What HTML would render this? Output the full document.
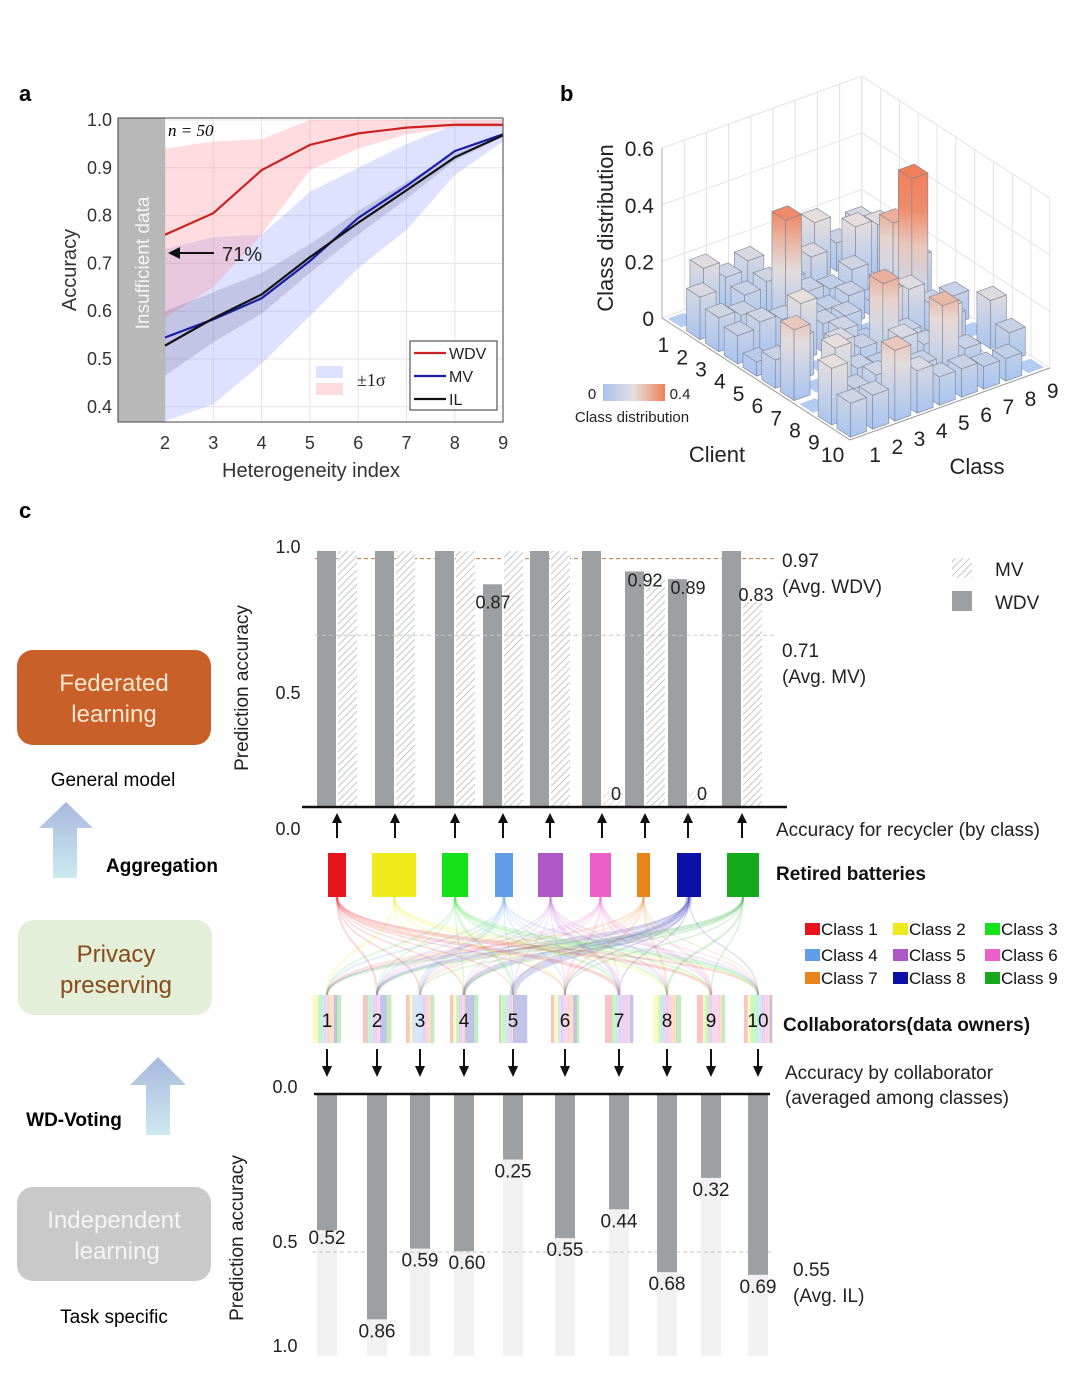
<!DOCTYPE html>
<html><head><meta charset="utf-8">
<style>
html,body{margin:0;padding:0;background:#fff;}
svg{display:block;font-family:"Liberation Sans",sans-serif;}
</style></head>
<body>
<svg id="fig" width="1080" height="1374" viewBox="0 0 1080 1374" xmlns="http://www.w3.org/2000/svg">
<defs>
  <pattern id="hatch" width="5" height="5" patternUnits="userSpaceOnUse" patternTransform="rotate(45)">
    <rect width="5" height="5" fill="#fff"/>
    <line x1="0" y1="0" x2="0" y2="5" stroke="#b5b9bd" stroke-width="1.6"/>
  </pattern>
  <linearGradient id="cbar" x1="0" y1="0" x2="1" y2="0">
    <stop offset="0" stop-color="#a9c4f0"/><stop offset="0.5" stop-color="#e6dedc"/><stop offset="1" stop-color="#f0805a"/>
  </linearGradient>
  <linearGradient id="upArrow" x1="0" y1="0" x2="0" y2="1">
    <stop offset="0" stop-color="#a8b8dc"/><stop offset="1" stop-color="#cdeaf0"/>
  </linearGradient>
</defs>

<text x="19" y="101" font-size="22" font-weight="bold">a</text>
<text x="560" y="101" font-size="22" font-weight="bold">b</text>
<text x="19" y="518" font-size="22" font-weight="bold">c</text>

<g id="panelA"></g>
<g id="panelB"></g>
<g id="panelC"></g>

<g>
  <rect x="17" y="650" width="194" height="95" rx="16" fill="#c9602a"/>
  <text x="114" y="691" font-size="24" fill="#fbe6cf" text-anchor="middle">Federated</text>
  <text x="114" y="722" font-size="24" fill="#fbe6cf" text-anchor="middle">learning</text>
  <text x="113" y="786" font-size="19" text-anchor="middle">General model</text>
  <polygon points="66,802 93,828 77,828 77,878 53,878 53,828 39,828" fill="url(#upArrow)"/>
  <text x="162" y="872" font-size="19" font-weight="bold" text-anchor="middle">Aggregation</text>
  <rect x="18" y="920" width="194" height="95" rx="16" fill="#e3efd9"/>
  <text x="116" y="962" font-size="24" fill="#8a4a1a" text-anchor="middle">Privacy</text>
  <text x="116" y="993" font-size="24" fill="#8a4a1a" text-anchor="middle">preserving</text>
  <polygon points="158,1057 186,1085 170,1085 170,1135 146,1135 146,1085 130,1085" fill="url(#upArrow)"/>
  <text x="74" y="1126" font-size="19" font-weight="bold" text-anchor="middle">WD-Voting</text>
  <rect x="17" y="1187" width="194" height="94" rx="16" fill="#c9c9c9"/>
  <text x="114" y="1228" font-size="24" fill="#f4f4f4" text-anchor="middle">Independent</text>
  <text x="117" y="1259" font-size="24" fill="#f4f4f4" text-anchor="middle">learning</text>
  <text x="114" y="1323" font-size="19" text-anchor="middle">Task specific</text>
</g>
</svg>

<script>
// ===================== DATA =====================
const hetIndex = [2,3,4,5,6,7,8,9];
const wdvMean = [0.76,0.805,0.895,0.948,0.972,0.984,0.99,0.99];
const wdvUpper = [0.94,0.955,0.96,1.0,1.0,1.0,1.0,1.0];
const wdvLower = [0.585,0.65,0.76,0.895,0.94,0.97,0.985,0.985];
const mvMean = [0.545,0.583,0.627,0.705,0.795,0.862,0.935,0.97];
const mvUpper = [0.73,0.755,0.76,0.85,0.9,0.95,0.99,0.99];
const mvLower = [0.37,0.405,0.49,0.59,0.69,0.77,0.885,0.955];
const ilMean = [0.528,0.585,0.635,0.713,0.785,0.853,0.922,0.968];
const ilUpper = [0.6,0.64,0.68,0.74,0.81,0.87,0.93,0.97];
const ilLower = [0.465,0.535,0.595,0.68,0.76,0.835,0.915,0.965];
const aYTicks = [0.4,0.5,0.6,0.7,0.8,0.9,1.0];
const aXTicks = [2,3,4,5,6,7,8,9];
const classDist = [
 [0,0.18,0.12,0.15,0,0.1,0.2,0.1,0.15],
 [0.15,0,0.1,0.12,0.1,0.15,0,0.2,0.18],
 [0.12,0.1,0,0.38,0.1,0.08,0.12,0,0.1],
 [0.1,0.12,0.1,0,0.08,0.1,0.05,0.3,0.15],
 [0.05,0,0.2,0.1,0.1,0,0.05,0.5,0],
 [0.1,0.15,0,0.12,0.05,0.2,0.18,0.1,0.1],
 [0.25,0,0.15,0.1,0.3,0.1,0,0.1,0],
 [0,0.2,0.1,0.08,0.15,0.1,0.2,0,0.17],
 [0.2,0.1,0.12,0,0.1,0.28,0.1,0,0.1],
 [0.12,0.12,0.25,0.15,0.1,0.1,0.08,0.08,0]
];
const bZTicks = [0,0.2,0.4,0.6];
const classNames = ["Class 1","Class 2","Class 3","Class 4","Class 5","Class 6","Class 7","Class 8","Class 9"];
const classColors = ["#e8141c","#eeea1c","#16e21c","#5f9ee6","#ad58c6","#ec5ec8","#e8841c","#0a10a8","#14aa1c"];
const wdvAcc = [1,1,1,0.87,1,1,0.92,0.89,1];
const mvAcc = [1,1,1,1,1,0,0.9,0,0.8];
const wdvLabels = ["","","","0.87","","","0.92","0.89",""];
const mvLabels = ["","","","","","0","","0","0.83"];
const avgWDV = 0.97;
const avgMV = 0.71;
const collabNames = ["1","2","3","4","5","6","7","8","9","10"];
const ilAcc = [0.52,0.86,0.59,0.60,0.25,0.55,0.44,0.68,0.32,0.69];
const avgIL = 0.55;

const NS="http://www.w3.org/2000/svg";
function mk(parent, tag, attrs, text){
  const e=document.createElementNS(NS,tag);
  for(const k in attrs) e.setAttribute(k,attrs[k]);
  if(text!==undefined) e.textContent=text;
  parent.appendChild(e); return e;
}

// ===================== PANEL A =====================
(function(){
  const g=document.getElementById('panelA');
  const X0=118, X1=503, Y0=118, Y1=422;
  const xs=v=>165+(v-2)*48.3;
  const ys=v=>120+(1.0-v)*478;
  aXTicks.forEach(t=>{const l=mk(g,'line',{x1:xs(t),x2:xs(t),y1:Y0,y2:Y1,stroke:'#e4e4e4','stroke-width':1});
     });
  aYTicks.forEach(t=>{const l=mk(g,'line',{x1:X0,x2:X1,y1:ys(t),y2:ys(t),stroke:'#e4e4e4','stroke-width':1});
     });
  function band(up,lo,fill,name){
    let d='M'+hetIndex.map((x,i)=>xs(x)+','+ys(up[i])).join('L');
    d+='L'+hetIndex.slice().reverse().map((x,j)=>{const i=hetIndex.length-1-j;return xs(x)+','+ys(lo[i]);}).join('L')+'Z';
    const p=mk(g,'path',{d:d,fill:fill});
     
  }
  band(mvUpper,mvLower,'rgba(140,150,250,0.28)','mv-sigma-band');
  band(wdvUpper,wdvLower,'rgba(255,140,150,0.3)','wdv-sigma-band');
  band(ilUpper,ilLower,'rgba(90,95,140,0.22)','il-sigma-band');
  const gray=mk(g,'rect',{x:X0,y:Y0,width:165-X0,height:Y1-Y0,fill:'#b8b8b8'});
   
  const it=mk(g,'text',{x:0,y:0,'font-size':19,fill:'#f4f4f4','text-anchor':'middle',transform:'translate(149,263) rotate(-90)'},'Insufficient data');
   
  function line(arr,color,name){
    const p=mk(g,'polyline',{points:hetIndex.map((x,i)=>xs(x)+','+ys(arr[i])).join(' '),fill:'none',stroke:color,'stroke-width':2.2});
     
  }
  line(mvMean,'#1c1ca8','mv-line');
  line(ilMean,'#111','il-line');
  line(wdvMean,'#cc2222','wdv-line');
  const fr=mk(g,'rect',{x:X0,y:Y0,width:X1-X0,height:Y1-Y0,fill:'none',stroke:'#444','stroke-width':1});
   
  aYTicks.forEach(t=>{const tx=mk(g,'text',{x:112,y:ys(t)+6,'font-size':18,fill:'#333','text-anchor':'end'},t.toFixed(1));
     });
  aXTicks.forEach(t=>{const tx=mk(g,'text',{x:xs(t),y:449,'font-size':18,fill:'#333','text-anchor':'middle'},String(t));
     });
  const xt=mk(g,'text',{x:311,y:477,'font-size':20,fill:'#333','text-anchor':'middle'},'Heterogeneity index');
   
  const yt=mk(g,'text',{x:0,y:0,'font-size':20,fill:'#333','text-anchor':'middle',transform:'translate(76,270) rotate(-90)'},'Accuracy');
   
  const n=mk(g,'text',{x:168,y:136,'font-size':17,'font-style':'italic','font-family':'Liberation Serif, serif'},'n = 50');
   
  const ar=mk(g,'line',{x1:214,y1:253,x2:176,y2:253,stroke:'#111','stroke-width':2});
   
  mk(g,'polygon',{points:'168,253 180,247 180,259',fill:'#111'});
  const pct=mk(g,'text',{x:222,y:261,'font-size':20,fill:'#222'},'71%');
   
  const lg=mk(g,'g',{});
   
  mk(lg,'rect',{x:410,y:341,width:87,height:69,fill:'#fff',stroke:'#333','stroke-width':1});
  [['WDV','#cc2222',353],['MV','#1c1ca8',376],['IL','#111',399]].forEach(r=>{
    const e=mk(lg,'g',{});
     
    mk(e,'line',{x1:414,x2:446,y1:r[2],y2:r[2],stroke:r[1],'stroke-width':2.2});
    mk(e,'text',{x:449,y:r[2]+6,'font-size':16,fill:'#222'},r[0]);
  });
  const sg=mk(g,'g',{});
   
  mk(sg,'rect',{x:316,y:366,width:27,height:12,fill:'rgba(140,150,250,0.28)'});
  mk(sg,'rect',{x:316,y:383,width:27,height:12,fill:'rgba(255,140,150,0.3)'});
  mk(sg,'text',{x:357,y:386,'font-size':18,'font-family':'Liberation Serif, serif',fill:'#222'},'±1σ');
})();

// ===================== PANEL B =====================
(function(){
  const g=document.getElementById('panelB');
  const L=[662,318], uC=[18.8,12.2], uK=[22.2,-8.0], zS=283;
  const P=(c,k,z)=>[L[0]+c*uC[0]+k*uK[0], L[1]+c*uC[1]+k*uK[1]-z*zS];
  const nC=classDist.length, nK=classDist[0].length;
  const zMax=0.6;
  const wall=mk(g,'g',{stroke:'#e3e3e3','stroke-width':1,fill:'none'});
   
  for(let k=0;k<=nK;k++){const a=P(0,k,0),b=P(0,k,zMax);mk(wall,'line',{x1:a[0],y1:a[1],x2:b[0],y2:b[1]});}
  for(let c=0;c<=nC;c++){const a=P(c,nK,0),b=P(c,nK,zMax);mk(wall,'line',{x1:a[0],y1:a[1],x2:b[0],y2:b[1]});}
  bZTicks.forEach(z=>{const a=P(0,0,z),b=P(0,nK,z),d=P(nC,nK,z);
    mk(wall,'polyline',{points:a.join(',')+' '+b.join(',')+' '+d.join(',')});});
  const za=P(0,0,0), zb=P(0,0,zMax);
  mk(g,'line',{x1:za[0],y1:za[1],x2:zb[0],y2:zb[1],stroke:'#aaa','stroke-width':1});
  const fa=P(nC,0,0), fb=P(nC,nK,0);
  mk(g,'polyline',{points:za.join(',')+' '+fa.join(',')+' '+fb.join(','),fill:'none',stroke:'#999','stroke-width':1});
  bZTicks.forEach(z=>{const p=P(0,0,z);
    const t=mk(g,'text',{x:p[0]-8,y:p[1]+8,'font-size':21,fill:'#222','text-anchor':'end'},z===0?'0':z.toFixed(1));
     });
  const defs=document.querySelector('defs');
  function lerp(a,b,t){return a.map((x,i)=>Math.round(x+(b[i]-x)*t));}
  function cmap(v){const t=Math.min(1,v/0.4);
    const a=[169,196,240], m=[230,222,220], b=[240,128,90];
    const c=t<0.5?lerp(a,m,t*2):lerp(m,b,(t-0.5)*2);
    return 'rgb('+c.join(',')+')';}
  const bars=[];
  for(let c=0;c<nC;c++)for(let k=0;k<nK;k++)bars.push([c,k,classDist[c][k]]);
  bars.sort((A,B)=>(A[0]-A[1])-(B[0]-B[1]) || (A[0]-B[0]));
  const w=0.36;
  bars.forEach((b,i)=>{
    const [c,k,v]=b, cc=c+0.5, kk=k+0.5;
    const grp=mk(g,'g',{});
    
    
    if(v<=0){
      const pts=[P(cc-w,kk-w,0),P(cc+w,kk-w,0),P(cc+w,kk+w,0),P(cc-w,kk+w,0)];
      mk(grp,'polygon',{points:pts.map(p=>p.join(',')).join(' '),fill:'#b4cbf2'});
      return;
    }
    const gid='bg'+i;
    const lg=mk(defs,'linearGradient',{id:gid,x1:0,y1:1,x2:0,y2:0});
    [0,0.25,0.5,0.75,1].forEach(o=>mk(lg,'stop',{offset:o,'stop-color':cmap(v*o)}));
    const f1=[P(cc+w,kk-w,0),P(cc+w,kk+w,0),P(cc+w,kk+w,v),P(cc+w,kk-w,v)];
    const f2=[P(cc-w,kk-w,0),P(cc+w,kk-w,0),P(cc+w,kk-w,v),P(cc-w,kk-w,v)];
    const top=[P(cc-w,kk-w,v),P(cc+w,kk-w,v),P(cc+w,kk+w,v),P(cc-w,kk+w,v)];
    mk(grp,'polygon',{points:f2.map(p=>p.join(',')).join(' '),fill:'url(#'+gid+')',stroke:'#7d8494','stroke-width':0.6});
    mk(grp,'polygon',{points:f1.map(p=>p.join(',')).join(' '),fill:'url(#'+gid+')',stroke:'#7d8494','stroke-width':0.6});
    mk(grp,'polygon',{points:top.map(p=>p.join(',')).join(' '),fill:cmap(v),stroke:'#7d8494','stroke-width':0.6});
  });
  for(let c=0;c<nC;c++){const p=P(c+0.5,0,0);
    const t=mk(g,'text',{x:p[0]-8,y:p[1]+28,'font-size':21,fill:'#222','text-anchor':'middle'},String(c+1));
     }
  for(let k=0;k<nK;k++){const p=P(nC,k+0.5,0);
    const t=mk(g,'text',{x:p[0]+14,y:p[1]+26,'font-size':21,fill:'#222','text-anchor':'middle'},String(k+1));
     }
  const ct=mk(g,'text',{x:717,y:462,'font-size':22,fill:'#222','text-anchor':'middle'},'Client');
   
  const kt=mk(g,'text',{x:977,y:474,'font-size':22,fill:'#222','text-anchor':'middle'},'Class');
   
  const zt=mk(g,'text',{x:0,y:0,'font-size':22,fill:'#222','text-anchor':'middle',transform:'translate(613,228) rotate(-90)'},'Class distribution');
   
  const cb=mk(g,'g',{});
   
  mk(cb,'rect',{x:603,y:384,width:62,height:17,fill:'url(#cbar)'});
  mk(cb,'text',{x:592,y:399,'font-size':15,fill:'#222','text-anchor':'middle'},'0');
  mk(cb,'text',{x:680,y:399,'font-size':15,fill:'#222','text-anchor':'middle'},'0.4');
  mk(cb,'text',{x:632,y:422,'font-size':15,fill:'#222','text-anchor':'middle'},'Class distribution');
})();

// ===================== PANEL C =====================
(function(){
  const g=document.getElementById('panelC');
  const clsX=[337,395,455,503,550,602,645,688,742];
  const batX=[[328,346],[372,416],[442,468],[495,513],[538,563],[590,611],[637,650],[677,701],[727,759]];
  const colX=[327,377,420,464,513,565,619,667,711,758];
  const base=807, yT=v=>base-v*256;
  const bw=19;
  const l1=mk(g,'line',{x1:315,x2:775,y1:yT(avgWDV),y2:yT(avgWDV),stroke:'#c07a3a','stroke-width':1,'stroke-dasharray':'4,3'});
   
  wdvAcc.forEach((v,i)=>{
    const r=mk(g,'rect',{x:clsX[i]-bw-1,y:yT(v),width:bw,height:base-yT(v),fill:'#9da0a3'});
     
  });
  mvAcc.forEach((v,i)=>{
    const h=Math.max(base-yT(v),v===0?16:0);
    const r=mk(g,'rect',{x:clsX[i]+1,y:base-h,width:bw,height:h,fill:'url(#hatch)',opacity:v===0?0.6:1});
     
  });
  const l2=mk(g,'line',{x1:315,x2:775,y1:yT(avgMV)+10,y2:yT(avgMV)+10,stroke:'#c8c8c8','stroke-width':1,'stroke-dasharray':'4,3'});
   
  wdvLabels.forEach((s,i)=>{if(!s)return;
    const t=mk(g,'text',{x:clsX[i]-(i===3?10:0),y:yT(wdvAcc[i])+(i===3?24:15),'font-size':18,fill:'#222','text-anchor':'middle'},s);
     });
  mvLabels.forEach((s,i)=>{if(!s)return;
    const t=mk(g,'text',{x:clsX[i]+14,y:(mvAcc[i]===0?base-7:yT(mvAcc[i])-1),'font-size':18,fill:'#222','text-anchor':'middle'},s);
     });
  const bl=mk(g,'line',{x1:302,x2:787,y1:base,y2:base,stroke:'#111','stroke-width':2.5});
   
  [['1.0',553],['0.5',699],['0.0',835]].forEach(r=>{
    const t=mk(g,'text',{x:288,y:r[1],'font-size':18,fill:'#222','text-anchor':'middle'},r[0]);
     });
  const yt=mk(g,'text',{x:0,y:0,'font-size':19,fill:'#222','text-anchor':'middle',transform:'translate(248,688) rotate(-90)'},'Prediction accuracy');
   
  clsX.forEach(x=>{const a=mk(g,'g',{});
     
    mk(a,'line',{x1:x,x2:x,y1:838,y2:820,stroke:'#111','stroke-width':2});
    mk(a,'polygon',{points:(x-5)+',823 '+(x+5)+',823 '+x+',813',fill:'#111'});});
  const ann=[['0.97',782,567],['(Avg. WDV)',782,593],['0.71',782,657],['(Avg. MV)',782,683],['Accuracy for recycler (by class)',776,836]];
  ann.forEach(a=>{const t=mk(g,'text',{x:a[1],y:a[2],'font-size':19,fill:'#222'},a[0]);
     });
  const lg=mk(g,'g',{});
   
  mk(lg,'rect',{x:952,y:558,width:20,height:20,fill:'url(#hatch)'});
  mk(lg,'text',{x:995,y:576,'font-size':19,fill:'#222'},'MV');
  mk(lg,'rect',{x:952,y:591,width:20,height:20,fill:'#9da0a3'});
  mk(lg,'text',{x:995,y:609,'font-size':19,fill:'#222'},'WDV');
  const fl=mk(g,'g',{fill:'none'});
   
  classDist.forEach((row,c)=>row.forEach((v,k)=>{if(v<=0)return;
    const x1=(batX[k][0]+batX[k][1])/2, x2=colX[c];
    const p=mk(fl,'path',{d:'M'+x1+',897 C'+x1+',950 '+x2+',945 '+x2+',995',stroke:classColors[k],'stroke-width':Math.max(1.2,v*14),'stroke-opacity':0.16});
     }));
  batX.forEach((b,k)=>{const r=mk(g,'rect',{x:b[0],y:853,width:b[1]-b[0],height:44,fill:classColors[k]});
     });
  const rb=mk(g,'text',{x:776,y:880,'font-size':19,'font-weight':'bold',fill:'#111'},'Retired batteries');
   
  classDist.forEach((row,c)=>{
    const grp=mk(g,'g',{});
     
    const W=28, x0=colX[c]-W/2; const tot=row.reduce((a,b)=>a+b,0); let acc=0;
    row.forEach((v,k)=>{if(v<=0)return; const w=W*v/tot;
      mk(grp,'rect',{x:x0+acc,y:995,width:w+0.3,height:48,fill:classColors[k],opacity:0.25}); acc+=w;});
    mk(grp,'text',{x:colX[c],y:1027,'font-size':19,fill:'#111','text-anchor':'middle'},collabNames[c]);
  });
  const cl=mk(g,'text',{x:783,y:1031,'font-size':19,'font-weight':'bold',fill:'#111'},'Collaborators(data owners)');
   
  classNames.forEach((n,k)=>{const col=k%3,row=Math.floor(k/3);
    const x=[805,893,985][col], y=[929,955,978][row];
    const e=mk(g,'g',{});
     
    mk(e,'rect',{x:x,y:y-6,width:15,height:12,fill:classColors[k]});
    mk(e,'text',{x:x+16,y:y+6,'font-size':17,fill:'#111'},n);});
  colX.forEach(x=>{const a=mk(g,'g',{});
     
    mk(a,'line',{x1:x,x2:x,y1:1049,y2:1068,stroke:'#111','stroke-width':2});
    mk(a,'polygon',{points:(x-5)+',1066 '+(x+5)+',1066 '+x+',1077',fill:'#111'});});
  const b0=1094, yB=v=>b0+v*262;
  ilAcc.forEach((v,i)=>{
    const bg=mk(g,'rect',{x:colX[i]-10,y:b0,width:20,height:yB(1)-b0,fill:'#f1f1f1'});
     
  });
  const l3=mk(g,'line',{x1:312,x2:772,y1:yB(avgIL)+14,y2:yB(avgIL)+14,stroke:'#c8c8c8','stroke-width':1,'stroke-dasharray':'4,3'});
   
  ilAcc.forEach((v,i)=>{
    const r=mk(g,'rect',{x:colX[i]-10,y:b0,width:20,height:yB(v)-b0,fill:'#9da0a3'});
     
    const t=mk(g,'text',{x:colX[i]+(i===3?3:0),y:yB(v)+(i===0?14:18),'font-size':19,fill:'#222','text-anchor':'middle'},v.toFixed(2));
     
  });
  const bl2=mk(g,'line',{x1:314,x2:770,y1:b0,y2:b0,stroke:'#111','stroke-width':2.5});
   
  [['0.0',1093],['0.5',1248],['1.0',1352]].forEach(r=>{
    const t=mk(g,'text',{x:285,y:r[1],'font-size':18,fill:'#222','text-anchor':'middle'},r[0]);
     });
  const yt2=mk(g,'text',{x:0,y:0,'font-size':19,fill:'#222','text-anchor':'middle',transform:'translate(243,1238) rotate(-90)'},'Prediction accuracy');
   
  [['Accuracy by collaborator',785,1079],['(averaged among classes)',785,1104],['0.55',793,1276],['(Avg. IL)',793,1302]].forEach(a=>{
    const t=mk(g,'text',{x:a[1],y:a[2],'font-size':19,fill:'#222'},a[0]);
     });
})();
</script>
</body></html>
